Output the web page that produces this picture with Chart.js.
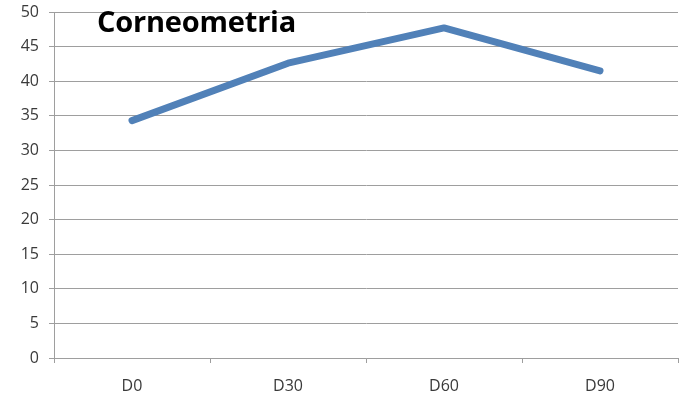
<!DOCTYPE html>
<html>
<head>
<meta charset="utf-8">
<script src="https://cdn.jsdelivr.net/npm/chart.js@4"></script>
<style>
  html, body { margin: 0; padding: 0; background: #fff; }
  #wrap { position: relative; width: 684px; height: 397px; }
  #title {
    position: absolute; left: 97px; top: 1px;
    font-family: "Open Sans", sans-serif; font-weight: bold; font-size: 29px;
    color: #000; white-space: nowrap; letter-spacing: -0.2px;
  }
</style>
</head>
<body>
<div id="wrap">
  <canvas id="chart" width="684" height="397"></canvas>
  <div id="title">Corneometria</div>
</div>
<script>
  // data
  const days = ["D0", "D30", "D60", "D90"];
  const corneometria = [34.3, 42.6, 47.7, 41.5];
  const yTicks = [0, 5, 10, 15, 20, 25, 30, 35, 40, 45, 50];

  const grey = "#9e9e9e";
  const labelFont = { family: "Open Sans", size: 16 };

  new Chart(document.getElementById("chart"), {
    type: "line",
    data: {
      labels: days,
      datasets: [{
        data: corneometria,
        borderColor: "#5181b8",
        borderWidth: 7,
        pointRadius: 0,
        borderCapStyle: "round",
        borderJoinStyle: "round",
        tension: 0
      }]
    },
    options: {
      responsive: false,
      animation: false,
      layout: { padding: { left: 0, right: 6, top: 12, bottom: 0 } },
      plugins: { legend: { display: false }, tooltip: { enabled: false } },
      scales: {
        x: {
          offset: true,
          grid: { offset: true, drawOnChartArea: false, drawTicks: true, tickLength: 5, color: grey },
          border: { color: grey, width: 1 },
          ticks: { color: "#3a3a3a", font: labelFont, padding: 14 },
          afterFit: (s) => { s.height = 39; }
        },
        y: {
          min: 0, max: 50,
          afterBuildTicks: (s) => { s.ticks = yTicks.map(v => ({ value: v })); },
          grid: { color: grey, lineWidth: 1, tickLength: 5 },
          border: { color: grey, width: 1 },
          ticks: { color: "#3a3a3a", font: labelFont, padding: 10 },
          afterFit: (s) => { s.width = 54; s.paddingTop = 0; s.paddingBottom = 0; }
        }
      }
    }
  });
</script>
</body>
</html>
